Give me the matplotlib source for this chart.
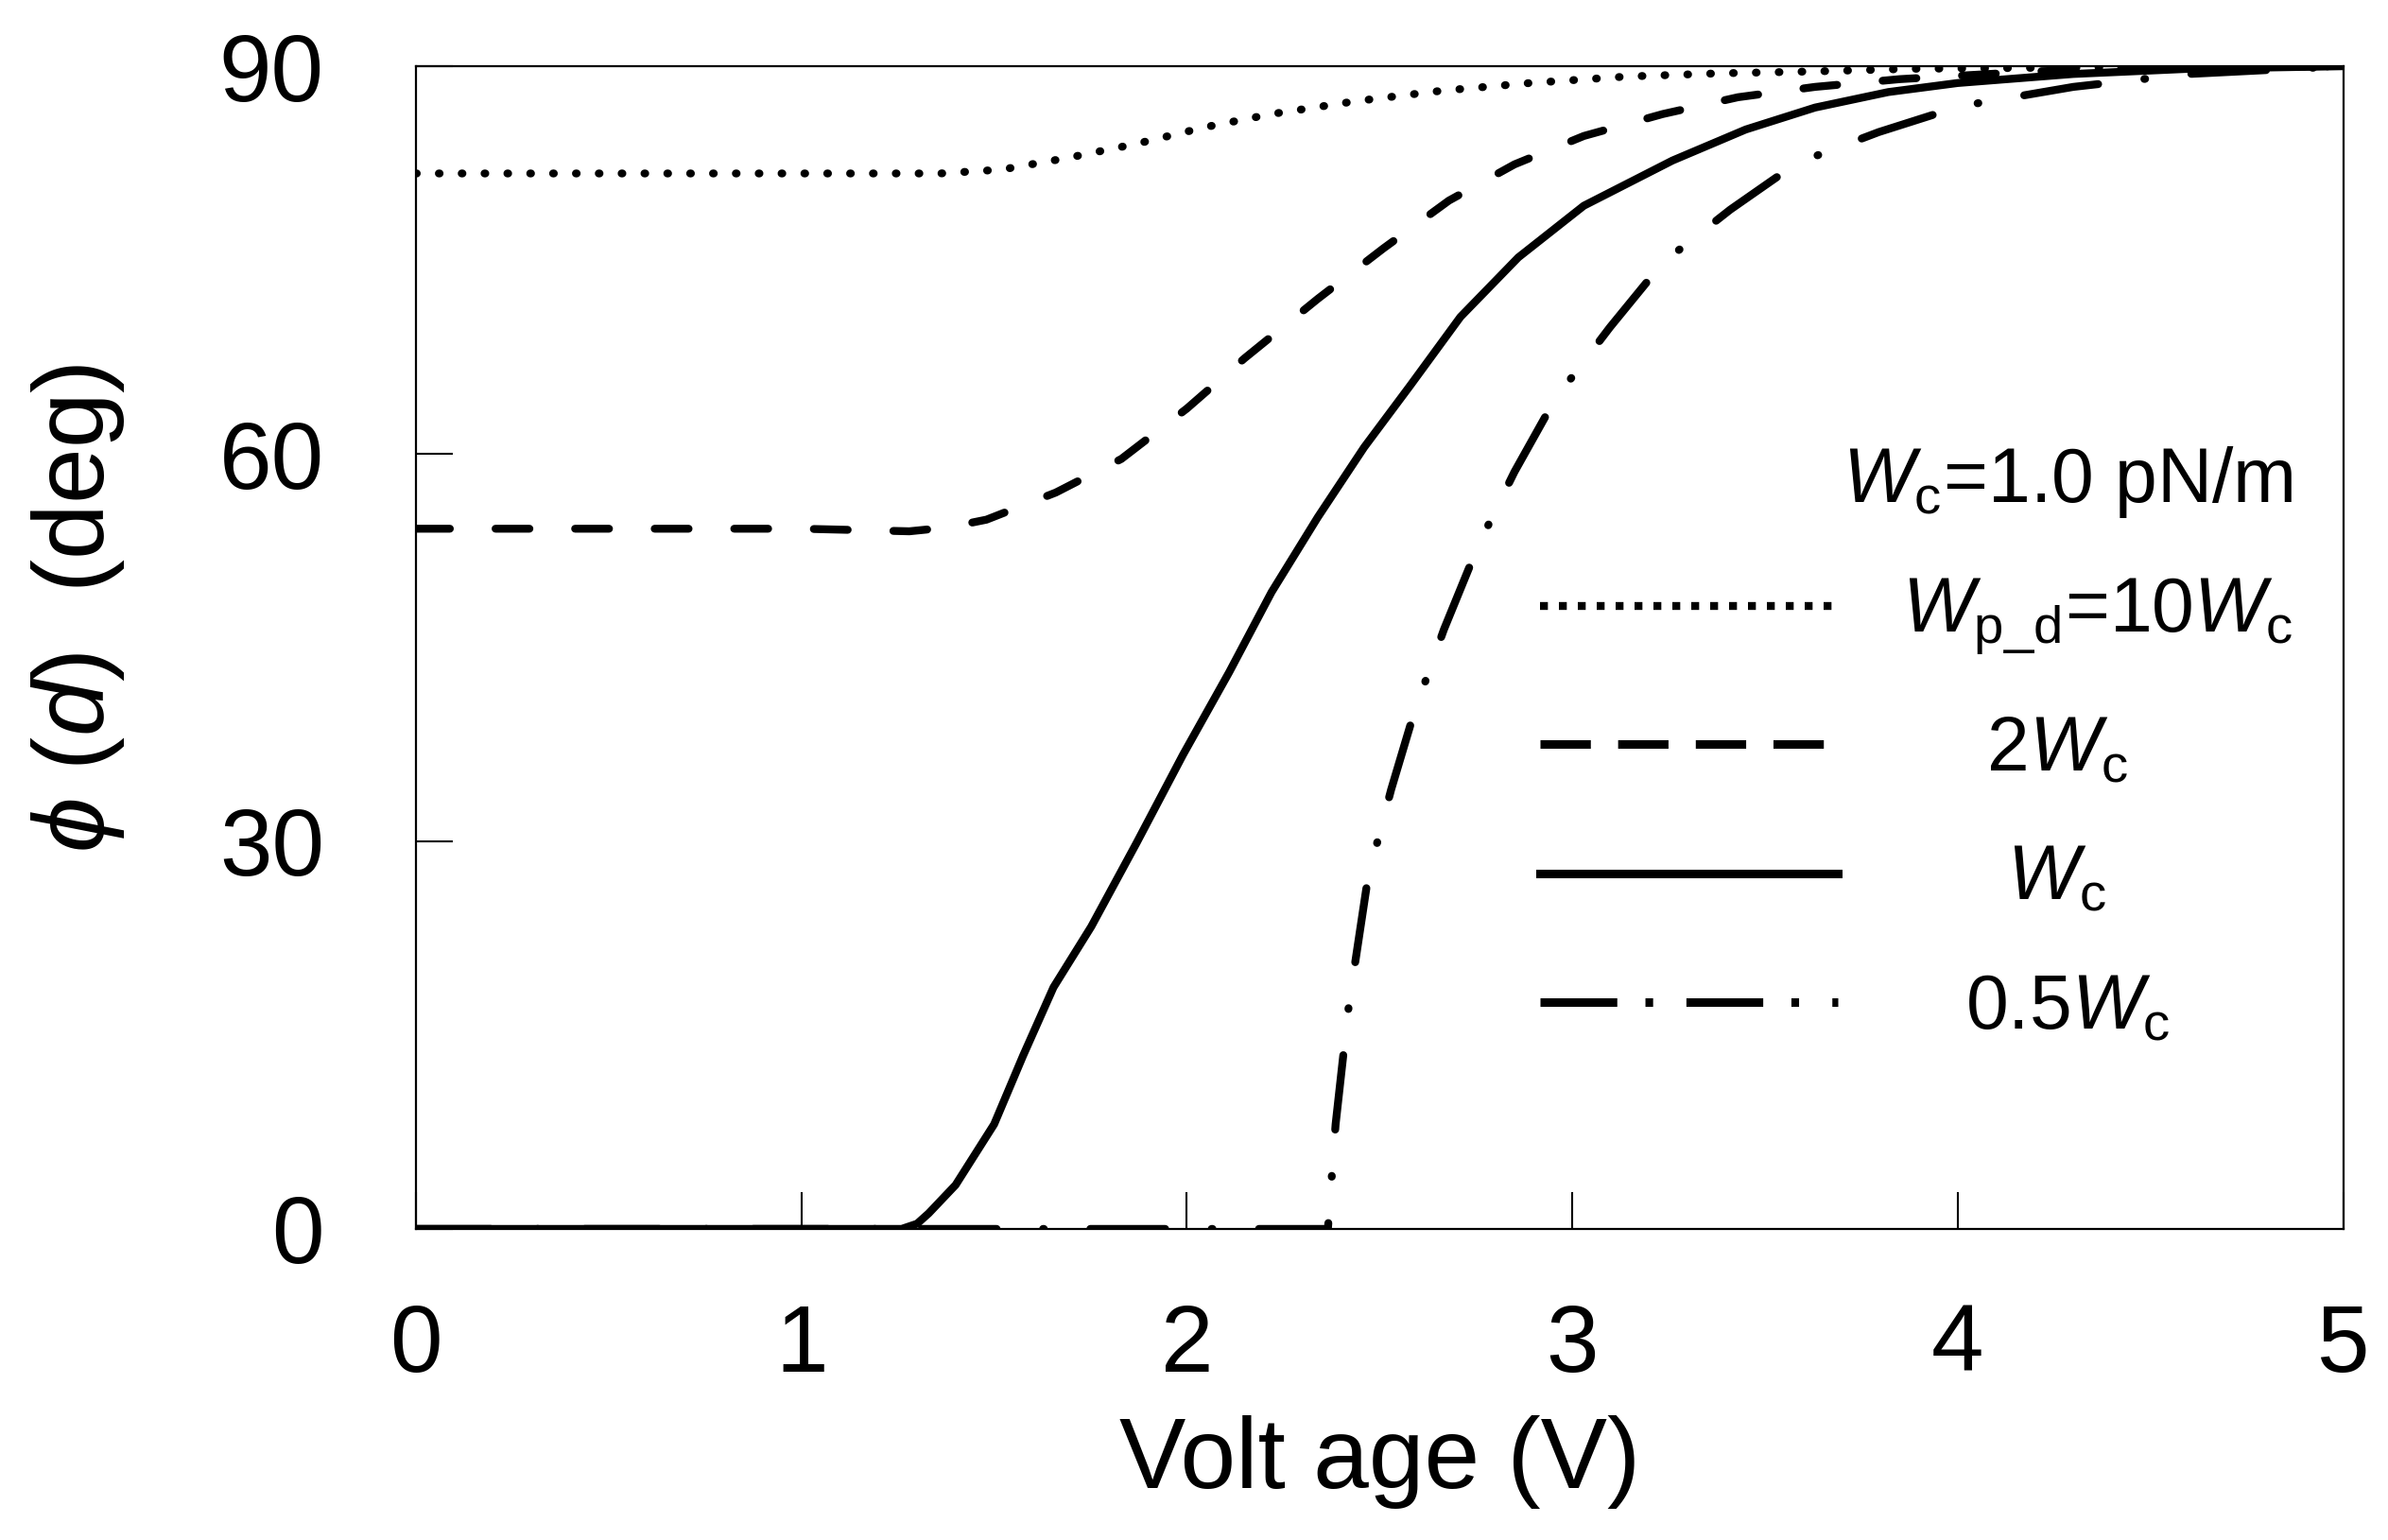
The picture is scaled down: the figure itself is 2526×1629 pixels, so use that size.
import numpy as np
import matplotlib.pyplot as plt
from matplotlib.lines import Line2D

plt.rcParams['font.family'] = ['Liberation Sans', 'DejaVu Sans']
plt.rcParams['mathtext.fontset'] = 'custom'
plt.rcParams['mathtext.rm'] = 'Liberation Sans'
plt.rcParams['mathtext.it'] = 'Liberation Sans:italic'
plt.rcParams['mathtext.fallback'] = 'cm'

# values: voltage (V) and phi(d) (deg)
v_10wc = [0, 0.7, 1.36, 1.52, 1.69, 1.87, 2.05, 2.22, 2.44, 2.66, 2.89, 3.14,
          3.38, 3.63, 3.88, 4.3, 5.0]
phi_10wc = [81.7, 81.7, 81.7, 82.0, 82.9, 84.0, 85.3, 86.3, 87.3, 88.1, 88.7, 89.2,
            89.45, 89.6, 89.8, 89.9, 90.0]

v_2wc = [0, 0.6, 1.0, 1.28, 1.38, 1.48, 1.66, 1.83, 2.00, 2.15, 2.34, 2.51, 2.68,
         2.85, 3.03, 3.235, 3.43, 3.63, 3.85, 4.2, 4.6, 5.0]
phi_2wc = [54.2, 54.2, 54.2, 54.0, 54.3, 54.9, 57.0, 59.6, 63.5, 67.4, 72.0, 75.9, 79.6,
           82.4, 84.6, 86.3, 87.6, 88.4, 89.0, 89.6, 89.9, 90.0]

v_wc = [0, 1.26, 1.30, 1.33, 1.40, 1.50, 1.575, 1.654, 1.752, 1.87, 1.99, 2.11, 2.22,
        2.34, 2.46, 2.58, 2.71, 2.86, 3.03, 3.26, 3.45, 3.63, 3.82, 4.0, 4.3, 4.6, 5.0]
phi_wc = [0, 0, 0.4, 1.2, 3.4, 8.1, 13.4, 18.7, 23.4, 29.9, 36.7, 43.1, 49.3,
          55.1, 60.5, 65.3, 70.6, 75.2, 79.2, 82.7, 85.1, 86.8, 88.0, 88.7, 89.4, 89.8, 90.0]

v_05wc = [0, 2.366, 2.386, 2.421, 2.47, 2.53, 2.589, 2.667, 2.756, 2.85, 2.955, 3.098,
          3.235, 3.41, 3.583, 3.795, 4.006, 4.3, 4.6, 5.0]
phi_05wc = [0, 0, 8.1, 17.5, 27.2, 34.0, 39.9, 46.4, 52.9, 58.6, 64.2, 69.8,
            74.8, 78.9, 82.5, 84.9, 86.9, 88.4, 89.4, 90.0]

labels = [r'$W_{\mathrm{p\_d}}$=10$W_{\mathrm{c}}$',
          r'    2$W_{\mathrm{c}}$',
          r'     $W_{\mathrm{c}}$',
          r'   0.5$W_{\mathrm{c}}$']
legend_title = r'$W_{\mathrm{c}}$=1.0 pN/m'

fig = plt.figure(figsize=(25.26, 16.29), dpi=100)
ax = fig.add_axes([0.1742, 0.202, 0.807, 0.755])

lw = 6
ax.plot(v_10wc, phi_10wc, color='black', lw=6, linestyle=(0, (0.1, 2.8)),
        dash_capstyle='round')
ax.plot(v_2wc, phi_2wc, color='black', lw=lw, linestyle=(0, (4.3, 5.8)),
        dash_capstyle='round')
ax.plot(v_wc, phi_wc, color='black', lw=lw, linestyle='-')
ax.plot(v_05wc, phi_05wc, color='black', lw=lw, linestyle=(0, (9.5, 5.9, 0.1, 5.9)),
        dash_capstyle='round')

handles = [Line2D([], [], color='black', lw=6, linestyle=(0, (1.0, 1.4))),
           Line2D([], [], color='black', lw=6.5, linestyle=(0, (5.9, 3.2))),
           Line2D([], [], color='black', lw=6.5, linestyle='-'),
           Line2D([], [], color='black', lw=6.5, linestyle=(0, (9, 3.3, 0.9, 3.9)))]
leg = ax.legend(handles, labels, loc='upper right', bbox_to_anchor=(0.974, 0.675),
                frameon=False, fontsize=58, title=legend_title, title_fontsize=58,
                alignment='right', handlelength=3.9, handletextpad=0.85,
                labelspacing=0.75, borderpad=0, borderaxespad=0)

ax.set_xlim(0, 5)
ax.set_ylim(0, 90)
ax.set_xticks([0, 1, 2, 3, 4, 5])
ax.set_yticks([0, 30, 60, 90])
ax.tick_params(direction='in', length=28, width=1.5, labelsize=72)
ax.tick_params(axis='y', pad=70)
ax.tick_params(axis='x', pad=56)
for s in ax.spines.values():
    s.set_linewidth(1.6)

ax.set_xlabel('Volt age (V)', fontsize=76, labelpad=18)
ax.set_ylabel(r'$\phi$ ($d$)  (deg)', fontsize=76)
ax.yaxis.set_label_coords(-0.15, 0.534)

fig.savefig('out.png', dpi=100)
